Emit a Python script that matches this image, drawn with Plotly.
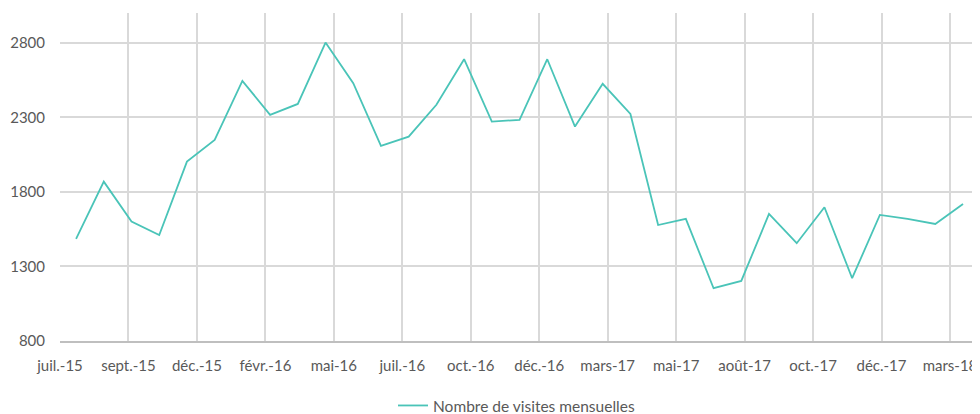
"""Monthly visits line chart, juil.-15 to mars-18."""
import plotly.graph_objects as go

LINE = "#4AC4B8"
GRID = "#D9D9D9"
AXIS_LINE = "#BFBFBF"
TEXT = "#595959"
FONT = "Lato, 'Open Sans', sans-serif"

# Monthly visits, Jul 2015 -> Mar 2018 (33 months)
months = list(range(33))
visits = [
    1485, 1869, 1601, 1511, 2003, 2149, 2545, 2317, 2390, 2802,
    2529, 2109, 2171, 2384, 2690, 2272, 2283, 2690, 2238, 2525,
    2323, 1578, 1619, 1154, 1203, 1652, 1456, 1697, 1221, 1646,
    1619, 1585, 1719,
]

# Date-axis labels (one every ~2.5 months, as in the source spreadsheet)
tick_labels = [
    "juil.-15", "sept.-15", "déc.-15", "févr.-16", "mai-16", "juil.-16",
    "oct.-16", "déc.-16", "mars-17", "mai-17", "août-17", "oct.-17",
    "déc.-17", "mars-18",
]
TICK_START = -0.58
TICK_STEP = 2.47
tick_vals = [TICK_START + TICK_STEP * k for k in range(len(tick_labels))]

fig = go.Figure()
fig.add_trace(go.Scatter(
    x=months, y=visits,
    mode="lines",
    line=dict(color=LINE, width=1.8),
    name="Nombre de visites mensuelles",
))

# page body has an 8px margin, so the figure is sized/offset to compensate
fig.update_layout(
    width=972, height=406,
    margin=dict(l=52, r=7, t=5, b=73, autoexpand=False),
    paper_bgcolor="white",
    plot_bgcolor="white",
    font=dict(family=FONT, size=15, color=TEXT),
    showlegend=True,
    legend=dict(
        orientation="h",
        x=0.5, xanchor="center",
        yref="container",
        y=0.02, yanchor="middle",
        font=dict(size=15.5, color=TEXT),
    ),
    xaxis=dict(
        range=[TICK_START, 32.36],
        tickmode="array",
        tickvals=tick_vals,
        ticktext=tick_labels,
        showgrid=True,
        gridcolor=GRID,
        gridwidth=1.5,
        showline=True,
        linecolor=AXIS_LINE,
        linewidth=1.5,
        ticks="",
        ticklen=0,
        ticklabelstandoff=10,
        zeroline=False,
    ),
    yaxis=dict(
        range=[800, 3000],
        tickvals=[800, 1300, 1800, 2300, 2800],
        showgrid=True,
        gridcolor=GRID,
        gridwidth=1.5,
        showline=False,
        ticks="",
        ticklen=0,
        ticklabelstandoff=14,
        zeroline=False,
    ),
)

fig.write_html("out.html")
